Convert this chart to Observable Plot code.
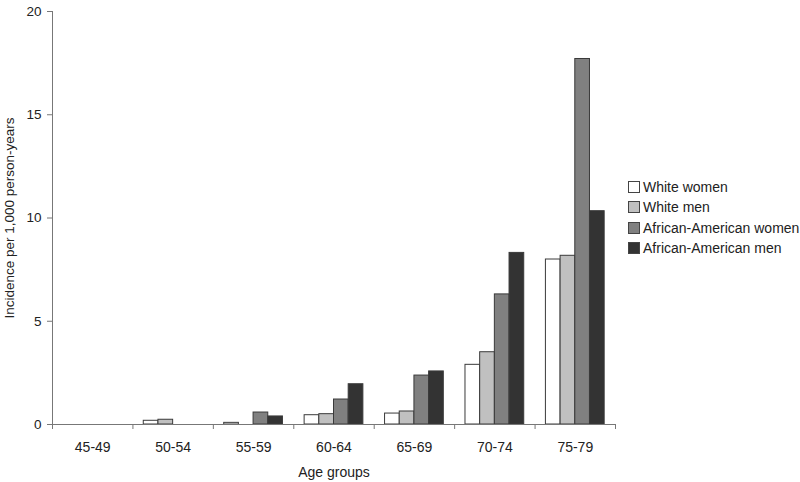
<!DOCTYPE html>
<html>
<head>
<meta charset="utf-8">
<script src="https://cdn.jsdelivr.net/npm/d3@7"></script>
<script src="https://cdn.jsdelivr.net/npm/@observablehq/plot@0.6"></script>
<style>
  html, body { margin: 0; padding: 0; background: #fff; }
  #wrap { position: relative; width: 800px; height: 482px; font-family: "Liberation Sans", Arial, sans-serif; }
  #legend { position: absolute; left: 628px; top: 177px; font-size: 14px; color: #222; }
  .item { display: flex; align-items: center; height: 20.3px; white-space: nowrap; }
  .sw { width: 10px; height: 10px; border: 1px solid #444; margin-right: 3px; box-sizing: content-box; }
</style>
</head>
<body>
<div id="wrap"><div id="legend"></div></div>
<script>
const ages = ["45-49", "50-54", "55-59", "60-64", "65-69", "70-74", "75-79"];
const series = ["White women", "White men", "African-American women", "African-American men"];
const whiteWomen = [0, 0.18, 0.08, 0.45, 0.53, 2.89, 7.99];
const whiteMen = [0, 0.23, 0, 0.50, 0.63, 3.50, 8.17];
const aaWomen = [0, 0, 0.58, 1.21, 2.37, 6.30, 17.70];
const aaMen = [0, 0, 0.39, 1.95, 2.57, 8.31, 10.33];
const colors = ["#ffffff", "#c0c0c0", "#808080", "#333333"];
const yTicks = [0, 5, 10, 15, 20];

const values = [whiteWomen, whiteMen, aaWomen, aaMen];
const inner = d3.scaleBand().domain(series).range([0, 1]).paddingInner(0).paddingOuter(0.738);
const rows = [];
series.forEach((s, j) => {
  ages.forEach((a, i) => {
    const v = values[j][i];
    if (v > 0) rows.push({age: a, series: s, value: v, x1: i + inner(s), x2: i + inner(s) + inner.bandwidth()});
  });
});

const chart = Plot.plot({
  width: 800,
  height: 482,
  marginLeft: 52,
  marginRight: 185,
  marginTop: 11,
  marginBottom: 58,
  style: {fontFamily: "'Liberation Sans', Arial, sans-serif", fontSize: "13.5px", color: "#222", background: "#fff"},
  x: {domain: [0, ages.length]},
  y: {domain: [0, 20]},
  color: {domain: series, range: colors},
  marks: [
    Plot.rectY(rows, {x1: "x1", x2: "x2", y: "value", fill: "series", stroke: "#3a3a3a", strokeWidth: 1}),
    Plot.ruleY([0], {stroke: "#777"}),
    Plot.ruleX([0], {stroke: "#777"}),
    Plot.axisY({ticks: yTicks, tickSize: 5, tickPadding: 6, stroke: "#777", label: "Incidence per 1,000 person-years", labelAnchor: "center", labelArrow: "none", labelOffset: 48, fill: "#222"}),
    Plot.axisX({ticks: d3.range(ages.length + 1), tickFormat: () => "", tickSize: 5, stroke: "#777", label: null}),
    Plot.axisX({ticks: ages.map((a, i) => i + 0.5), tickFormat: (d) => ages[Math.floor(d)], tickSize: 0, tickPadding: 18, fontSize: 14, fill: "#222", label: "Age groups", labelAnchor: "center", labelArrow: "none", labelOffset: 52})
  ]
});
document.getElementById("wrap").prepend(chart);

const legend = document.getElementById("legend");
series.forEach((s, j) => {
  const item = document.createElement("div");
  item.className = "item";
  const sw = document.createElement("span");
  sw.className = "sw";
  sw.style.background = colors[j];
  const t = document.createElement("span");
  t.textContent = s;
  item.appendChild(sw);
  item.appendChild(t);
  legend.appendChild(item);
});
</script>
</body>
</html>
